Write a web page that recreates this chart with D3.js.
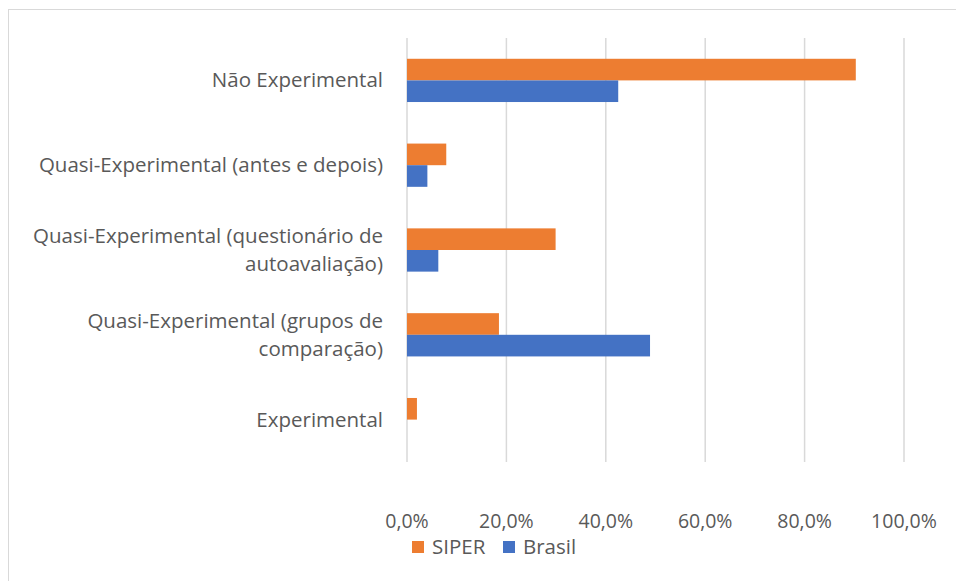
<!DOCTYPE html>
<html>
<head>
<meta charset="utf-8">
<style>
  html, body { margin: 0; padding: 0; background: #fff; }
  text { font-family: "Open Sans", "Noto Sans", sans-serif; fill: #595959; }
</style>
</head>
<body>
<div id="chart"></div>
<script src="https://d3js.org/d3.v7.min.js"></script>
<script>

var categories = [
  ["Não Experimental"],
  ["Quasi-Experimental (antes e depois)"],
  ["Quasi-Experimental (questionário de", "autoavaliação)"],
  ["Quasi-Experimental (grupos de", "comparação)"],
  ["Experimental"]
];
var seriesNames = ["SIPER", "Brasil"];
var siper  = [90.3, 7.9, 29.9, 18.5, 2.0];
var brasil = [42.5, 4.1, 6.3, 48.9, 0.0];
var xTicks = [0, 20, 40, 60, 80, 100];
var colors = ["#ED7D31", "#4472C4"];

var W = 956, H = 581;
var plot = {left: 407, right: 904, top: 38, bottom: 462};

var svg = d3.select("#chart").append("svg")
    .attr("width", W)
    .attr("height", H);

// chart frame
svg.append("rect")
    .attr("x", 8.5).attr("y", 9.5)
    .attr("width", W + 20).attr("height", H + 20)
    .attr("fill", "#fff")
    .attr("stroke", "#d9d9d9")
    .attr("stroke-width", 1);

var x = d3.scaleLinear().domain([0, 100]).range([plot.left, plot.right]);
var y = d3.scaleBand()
    .domain(d3.range(categories.length))
    .range([plot.top, plot.bottom])
    .paddingInner(0.49).paddingOuter(0.245);
var ySub = d3.scaleBand().domain([0, 1]).range([0, y.bandwidth()]);

// gridlines
svg.append("g").selectAll("line")
    .data(xTicks)
  .enter().append("line")
    .attr("x1", function(d) { return x(d); })
    .attr("x2", function(d) { return x(d); })
    .attr("y1", plot.top)
    .attr("y2", plot.bottom)
    .attr("stroke", "#d9d9d9")
    .attr("stroke-width", 1.5);

// bars
var series = [siper, brasil];
series.forEach(function(vals, s) {
  svg.append("g").selectAll("rect")
      .data(vals)
    .enter().append("rect")
      .attr("x", x(0))
      .attr("y", function(d, i) { return y(i) + ySub(s); })
      .attr("width", function(d) { return x(d) - x(0); })
      .attr("height", ySub.bandwidth())
      .attr("fill", colors[s]);
});

// category labels
var lab = svg.append("g").selectAll("text")
    .data(categories)
  .enter().append("text")
    .attr("text-anchor", "end")
    .attr("font-size", 20.5)
    .attr("y", function(d, i) { return y(i) + y.bandwidth() / 2; });
lab.each(function(lines) {
  var t = d3.select(this);
  var lh = 28;
  lines.forEach(function(l, k) {
    t.append("tspan")
        .attr("x", 383)
        .attr("dy", k === 0 ? (-(lines.length - 1) * lh / 2 + 7) : lh)
        .text(l);
  });
});

// x tick labels
var fmt = function(d) { return d.toFixed(1).replace(".", ",") + "%"; };
svg.append("g").selectAll("text")
    .data(xTicks)
  .enter().append("text")
    .attr("x", function(d) { return x(d); })
    .attr("y", 528)
    .attr("text-anchor", "middle")
    .attr("font-size", 19.5)
    .text(fmt);

// legend
var legendX = [412, 503];
var leg = svg.append("g").selectAll("g")
    .data(seriesNames)
  .enter().append("g")
    .attr("transform", function(d, i) { return "translate(" + legendX[i] + ",541)"; });
leg.append("rect")
    .attr("width", 12).attr("height", 12)
    .attr("fill", function(d, i) { return colors[i]; });
leg.append("text")
    .attr("x", 20).attr("y", 13)
    .attr("font-size", 20.5)
    .text(function(d) { return d; });

</script>
</body>
</html>
